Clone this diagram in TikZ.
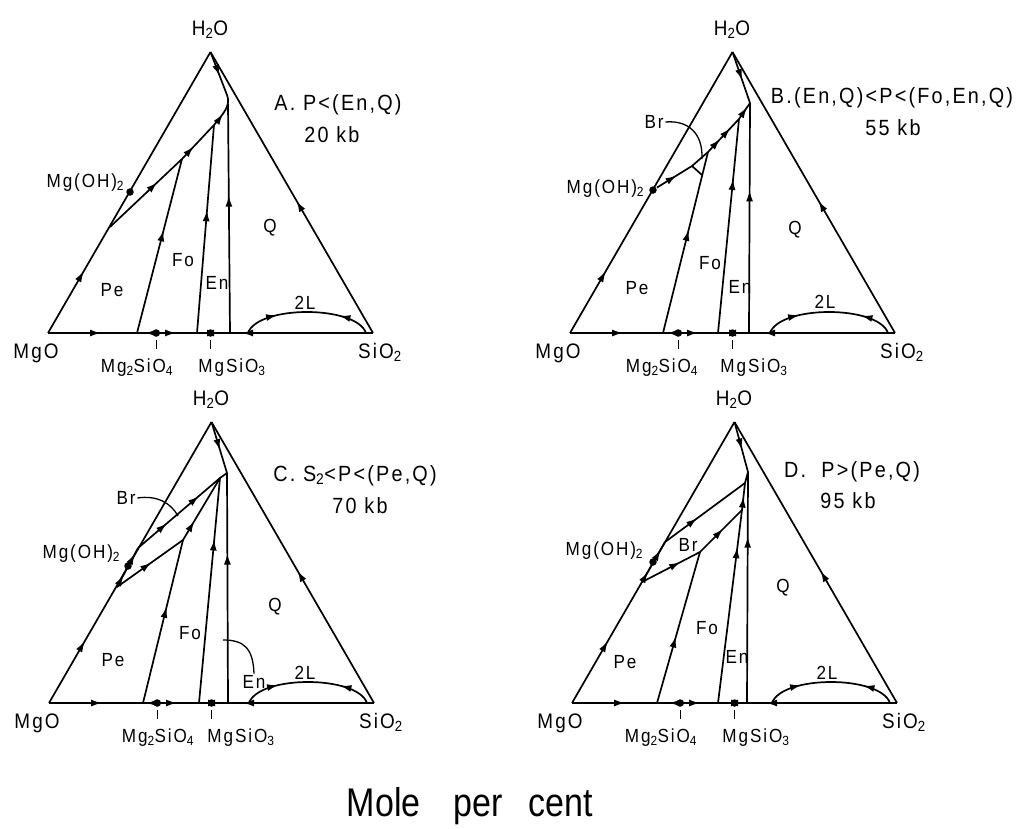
\documentclass[tikz,border=0pt]{standalone}
\usepackage{fontspec}
\setmainfont{Liberation Sans}[FakeStretch=0.9,LetterSpace=10]
\newfontfamily\narrowsf{Liberation Sans}[FakeStretch=0.85]
\usetikzlibrary{arrows.meta,decorations.markings}
\begin{document}
\begin{tikzpicture}[x=1pt,y=-1pt,line width=1.7pt,line join=round,
  >={Latex[length=11pt,width=7pt]},
  fwd/.style={postaction={decorate,decoration={markings,mark=at position #1 with {\arrow{>}}}}},
  rev/.style={postaction={decorate,decoration={markings,mark=at position #1 with {\arrowreversed{>}}}}},
  dot/.style={circle,fill,inner sep=0pt,minimum size=7.5pt},
  vtx/.style={font=\fontsize{21}{24}\selectfont,anchor=base,inner sep=0pt},
  cmp/.style={font=\fontsize{19}{22}\selectfont,anchor=base,inner sep=0pt},
  fld/.style={font=\fontsize{19}{22}\selectfont,inner sep=1pt},
  ttl/.style={font=\fontsize{22}{26}\selectfont,anchor=base,inner sep=0pt},
  ptr/.style={line width=1.3pt}]
\useasboundingbox (0,0) rectangle (1031,828);
% the four triangles and what they share
\foreach \p/\ox/\oy/\la/\lb in {A/48/333/89/184,B/570/333/92/184,C/49/703/109/192,D/572/703/89/184}{
\begin{scope}[shift={(\ox,\oy)}]
  \coordinate (mgo\p) at (0,0);
  \coordinate (sio\p) at (325,0);
  \coordinate (h2o\p) at (162.5,-281);
  \draw[fwd=53pt,rev=97pt,fwd=128pt,rev=155pt,fwd=170pt,rev=194pt] (mgo\p) -- (sio\p);
  \draw[fwd=0.22] (mgo\p) -- (h2o\p);
  \draw[fwd=0.47] (sio\p) -- (h2o\p);
  \node[dot] (fo\p) at (108.3,0) {};
  \node[dot] (en\p) at (162.5,0) {};
  \draw[ptr] ([yshift=-7pt]fo\p.center) -- ++(0,9);
  \draw[ptr] ([yshift=-7pt]en\p.center) -- ++(0,9);
  \draw[fwd=0.27,rev=0.75] (200,0) .. controls (210,-28) and (308,-28) .. (318,0);
  \node[vtx] (lmgo\p) at (-12,25) {MgO};
  \node[vtx] (lsio\p) at (332,25) {SiO\textsubscript{2}};
  \node[vtx] (lh2o\p) at (162,-298) {H\textsubscript{2}O};
  \node[cmp] (lfo\p) at (\la,39) {Mg\textsubscript{2}SiO\textsubscript{4}};
  \node[cmp] (len\p) at (\lb,39) {MgSiO\textsubscript{3}};
\end{scope}
}
% A
\begin{scope}[shift={(48,333)}]
  \coordinate (tA) at (179,-238);
  \coordinate (fA) at (166,-208);
  \coordinate (pA) at (134,-174);
  \coordinate (wA) at (62,-106);
  \draw[fwd=0.55] (h2oA) -- (tA);
  \draw[fwd=65pt,fwd=116pt,fwd=160pt] (wA) -- (pA) -- (fA) .. controls (176,-220) and (183,-228) .. (tA);
  \draw[fwd=0.59] (89,0) -- (pA);
  \draw[fwd=0.59] (149,0) -- (fA);
  \draw[fwd=0.6] (182,0) -- (180,-229);
  \node[dot] (mhA) at (82,-141) {};
  \node[cmp,anchor=base east] (lmhA) at (77,-146) {Mg(OH)\textsubscript{2}};
  \node[fld] (peA) at (64,-43) {Pe};
  \node[fld] (fofA) at (135,-73) {Fo};
  \node[fld] (enfA) at (169,-50) {En};
  \node[fld] (qA) at (222,-105) {Q};
  \node[fld] (llA) at (257,-30) {2L};
\end{scope}
% B
\begin{scope}[shift={(570,333)}]
  \coordinate (tB) at (180,-230);
  \coordinate (fB) at (169,-214);
  \coordinate (pB) at (138,-181);
  \coordinate (bB) at (122,-167);
  \coordinate (cB) at (132,-158);
  \node[dot] (mhB) at (83,-143) {};
  \draw[fwd=0.55] (h2oB) -- (tB);
  \draw[fwd=0.62] (179,0) -- (tB);
  \draw[fwd=0.72] (148,0) -- (fB);
  \draw[fwd=0.57] (93,0) -- (pB);
  \draw[fwd=23pt,fwd=80pt,fwd=95pt,fwd=122pt] (mhB) -- (bB) -- (pB) -- (fB) -- (tB);
  \draw (bB) -- (cB);
  \node[fld] (brB) at (84,-211) {Br};
  \draw[ptr] (brB.east) .. controls (118,-213) and (133,-200) .. (132,-174);
  \node[cmp,anchor=base east] (lmhB) at (75,-140) {Mg(OH)\textsubscript{2}};
  \node[fld] (peB) at (67,-45) {Pe};
  \node[fld] (fofB) at (140,-70) {Fo};
  \node[fld] (enfB) at (170,-46) {En};
  \node[fld] (qB) at (225,-103) {Q};
  \node[fld] (llB) at (255,-31) {2L};
\end{scope}
% C
\begin{scope}[shift={(49,703)}]
  \coordinate (tC) at (178,-230);
  \coordinate (fC) at (171,-225);
  \coordinate (pC) at (134,-163);
  \coordinate (uC) at (89,-155);
  \coordinate (wC) at (68,-116);
  \draw[fwd=0.55] (h2oC) -- (tC);
  \draw[fwd=0.65] (179,0) -- (tC);
  \draw[fwd=0.7] (150,0) -- (fC) -- (tC);
  \draw[fwd=0.59] (94,0) -- (pC);
  \draw[fwd=38pt,fwd=80pt] (uC) -- (fC);
  \draw[fwd=42pt,fwd=103pt] (wC) -- (pC) -- (fC);
  \draw[fwd=0.3,fwd=0.85] (wC) -- (uC);
  \node[dot] (mhC) at (79,-137) {};
  \node[cmp,anchor=base east] (lmhC) at (72,-145) {Mg(OH)\textsubscript{2}};
  \node[fld] (brC) at (77,-205) {Br};
  \draw[ptr] (brC.east) .. controls (108,-208) and (122,-200) .. (129,-187);
  \node[fld] (enfC) at (205,-21) {En};
  \draw[ptr] (enfC.north) .. controls (204,-55) and (195,-63) .. (174,-63);
  \node[fld] (peC) at (64,-43) {Pe};
  \node[fld] (fofC) at (141,-70) {Fo};
  \node[fld] (qC) at (226,-96) {Q};
  \node[fld] (llC) at (256,-30) {2L};
\end{scope}
% D
\begin{scope}[shift={(572,703)}]
  \coordinate (tD) at (176,-231);
  \coordinate (sD) at (173,-220);
  \coordinate (rD) at (170,-193);
  \coordinate (pD) at (128,-151);
  \coordinate (uD) at (93,-161);
  \coordinate (wD) at (70,-121);
  \draw[fwd=0.55] (h2oD) -- (tD);
  \draw[fwd=0.72] (175,0) -- (tD);
  \draw[fwd=157pt,fwd=208pt] (146,0) -- (rD) -- (sD) -- (tD);
  \draw[fwd=0.44] (85,0) -- (pD);
  \draw[fwd=40pt] (uD) -- (sD);
  \draw[fwd=43pt,fwd=98pt] (wD) -- (pD) -- (rD);
  \draw[fwd=0.25,fwd=0.8] (wD) -- (uD);
  \node[dot] (mhD) at (81,-141) {};
  \node[cmp,anchor=base east] (lmhD) at (72,-148) {Mg(OH)\textsubscript{2}};
  \node[fld] (brD) at (116,-158) {Br};
  \node[fld] (peD) at (53,-41) {Pe};
  \node[fld] (fofD) at (135,-75) {Fo};
  \node[fld] (enfD) at (165,-46) {En};
  \node[fld] (qD) at (211,-115) {Q};
  \node[fld] (llD) at (255,-30) {2L};
\end{scope}
% captions
\node[ttl] (ttlA) at (338,110) {A.\ P<(En,Q)};
\node[ttl] (kbA) at (332,142) {20 kb};
\node[ttl] (ttlB) at (892,103) {B.(En,Q)<P<(Fo,En,Q)};
\node[ttl] (kbB) at (893,135) {55 kb};
\node[ttl] (ttlC) at (355,481) {C.\ S\textsubscript{2}<P<(Pe,Q)};
\node[ttl] (kbC) at (360,513) {70 kb};
\node[ttl] (ttlD) at (852,477) {D.\ \ P>(Pe,Q)};
\node[ttl] (kbD) at (848,508) {95 kb};
\node[font=\narrowsf\fontsize{40}{44}\selectfont,anchor=base,inner sep=0pt] (mole) at (470,816) {Mole\hspace{33pt}per\hspace{26pt}cent};
\end{tikzpicture}
\end{document}
